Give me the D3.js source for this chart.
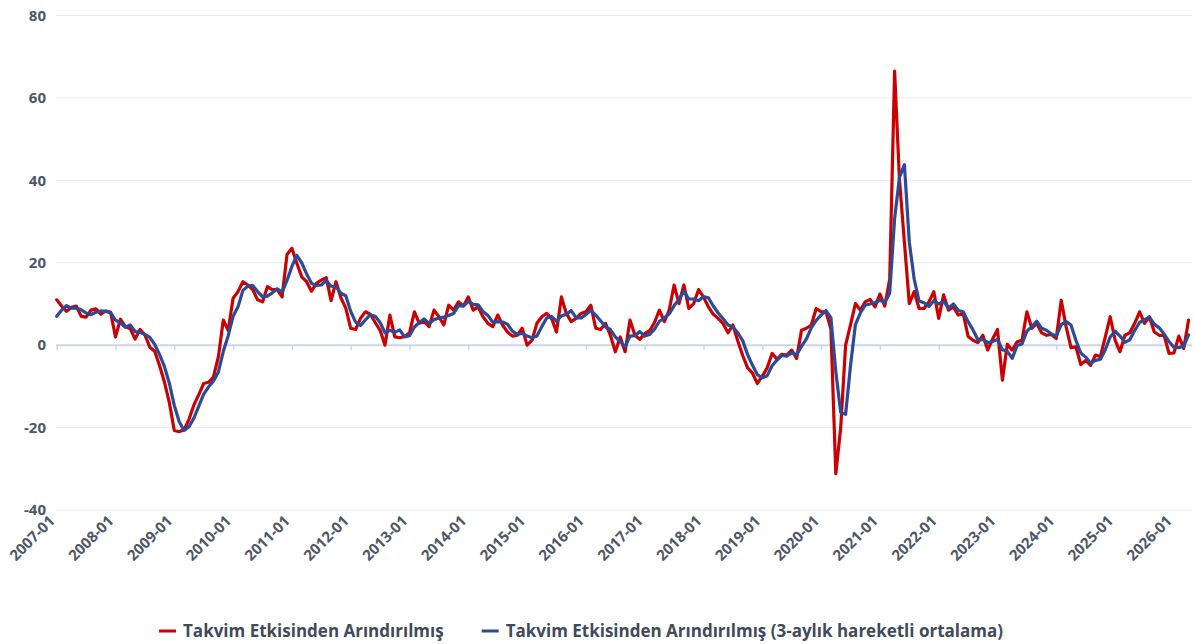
<!DOCTYPE html>
<html>
<head>
<meta charset="utf-8">
<script src="https://cdn.jsdelivr.net/npm/d3@7"></script>
<style>
  html, body { margin: 0; padding: 0; background: #ffffff; }
  svg { display: block; font-family: "Open Sans", "Noto Sans", sans-serif; }
</style>
</head>
<body>
<svg id="chart" width="1194" height="644"></svg>
<script>
// Monthly series, 2007-01 .. 2026-04 (one row per year)
const adjusted = [
  11.0, 9.5, 8.2, 9.2, 9.5, 7.0, 6.8, 8.5, 8.8, 7.5, 8.3, 8.0,
  2.0, 6.3, 4.5, 4.0, 1.5, 3.8, 2.5, -0.5, -1.5, -5.0, -9.0, -14.0,
  -20.7, -21.0, -20.5, -18.0, -14.5, -12.0, -9.3, -9.0, -7.7, -2.8, 6.1, 3.6,
  11.4, 13.0, 15.4, 14.6, 13.5, 11.0, 10.5, 14.2, 13.5, 13.5, 11.7, 22.0,
  23.5, 19.9, 16.6, 15.4, 13.1, 15.0, 15.8, 16.4, 10.8, 15.4, 11.5, 9.0,
  4.1, 3.8, 6.5, 8.1, 7.5, 5.5, 3.6, 0.0, 7.3, 2.0, 1.8, 2.1,
  3.0, 8.1, 5.3, 5.7, 4.5, 8.5, 6.9, 4.9, 9.7, 8.5, 10.5, 9.5,
  11.7, 8.5, 9.3, 6.9, 5.3, 4.5, 7.3, 4.9, 3.2, 2.2, 2.4, 4.1,
  0.0, 1.2, 5.3, 6.9, 7.7, 6.5, 3.2, 11.7, 7.7, 5.7, 6.5, 7.7,
  8.1, 9.7, 4.1, 3.8, 5.3, 2.4, -1.6, 2.0, -1.6, 6.1, 2.4, 1.4,
  2.8, 3.5, 5.5, 8.5, 5.7, 8.5, 14.6, 10.1, 14.6, 8.9, 10.1, 13.5,
  11.7, 9.3, 7.5, 6.5, 5.2, 3.0, 4.9, 1.0, -2.5, -5.5, -6.8, -9.3,
  -7.5, -5.5, -2.0, -3.4, -2.2, -2.4, -1.2, -3.2, 3.6, 4.1, 4.9, 8.9,
  8.1, 8.1, 4.0, -31.2, -20.0, 0.0, 4.9, 10.1, 8.5, 10.5, 11.1, 9.3,
  12.4, 9.5, 16.0, 66.5, 40.0, 25.0, 10.1, 13.0, 8.9, 8.9, 10.5, 13.0,
  6.5, 12.2, 8.5, 9.3, 7.3, 7.7, 2.1, 1.2, 0.6, 2.4, -1.2, 1.5,
  3.8, -8.5, 0.2, -1.2, 0.8, 1.2, 8.1, 4.1, 5.3, 3.0, 2.4, 2.6,
  1.6, 10.9, 4.5, -0.6, -0.4, -4.7, -3.7, -4.9, -2.4, -2.8, 2.0, 6.9,
  1.2, -1.6, 2.4, 3.0, 5.3, 8.1, 5.3, 6.9, 3.2, 2.4, 2.4, -2.0,
  -1.9, 2.2, -0.8, 6.1
];

const movingAvg = [
  7.0, 8.5, 9.6, 9.0, 9.0, 8.6, 7.8, 7.4, 8.0, 8.3, 8.2, 7.9,
  6.1, 5.4, 4.3, 4.9, 3.3, 3.1, 2.6, 1.9, 0.2, -2.3, -5.2, -9.3,
  -14.6, -18.6, -20.7, -19.8, -17.7, -14.8, -11.9, -10.1, -8.7, -6.5, -1.5, 2.3,
  7.0, 9.3, 13.3, 14.3, 14.5, 13.0, 11.7, 11.9, 12.7, 13.7, 12.9, 15.7,
  19.1, 21.8, 20.0, 17.3, 15.0, 14.5, 14.6, 15.7, 14.3, 14.2, 12.6, 12.0,
  8.2, 5.6, 4.8, 6.1, 7.4, 7.0, 5.5, 3.0, 3.6, 3.1, 3.7, 2.0,
  2.3, 4.4, 5.5, 6.4, 5.2, 6.2, 6.6, 6.8, 7.2, 7.7, 9.6, 9.5,
  10.6, 9.9, 9.8, 8.2, 7.2, 5.6, 5.7, 5.6, 5.1, 3.4, 2.6, 2.9,
  2.2, 1.8, 2.2, 4.5, 6.6, 7.0, 5.8, 7.1, 7.5, 8.4, 6.6, 6.6,
  7.4, 8.5, 7.3, 5.9, 4.4, 3.8, 2.0, 0.9, -0.4, 2.2, 2.3, 3.3,
  2.2, 2.6, 3.9, 5.8, 6.6, 7.6, 9.6, 11.1, 13.1, 11.2, 11.2, 10.8,
  11.8, 11.5, 9.5, 7.8, 6.4, 4.9, 4.4, 3.0, 1.1, -2.3, -4.9, -7.2,
  -7.9, -7.4, -5.0, -3.6, -2.5, -2.7, -1.9, -2.3, -0.3, 1.5, 4.2, 6.0,
  7.3, 8.4, 6.7, -6.4, -16.3, -16.8, -5.0, 5.0, 7.8, 9.7, 10.0, 10.3,
  10.9, 10.4, 12.6, 30.7, 40.8, 43.8, 25.0, 16.0, 10.7, 10.3, 9.4, 10.8,
  10.0, 10.6, 9.1, 10.0, 8.4, 8.1, 5.7, 3.7, 1.3, 1.4, 0.6, 0.9,
  1.4, -1.1, -1.5, -3.2, -0.1, 0.3, 3.4, 4.5, 5.8, 4.1, 3.6, 2.7,
  2.2, 5.0, 5.7, 4.9, 1.2, -1.9, -2.9, -4.4, -3.7, -3.4, -1.1, 2.0,
  3.4, 2.2, 0.7, 1.3, 3.6, 5.5, 6.2, 6.8, 5.1, 4.2, 2.7, 0.9,
  -0.5, -0.6, -0.2, 2.5
];

const tickLabels = [
  "2007-01", "2008-01", "2009-01", "2010-01", "2011-01", "2012-01", "2013-01",
  "2014-01", "2015-01", "2016-01", "2017-01", "2018-01", "2019-01", "2020-01",
  "2021-01", "2022-01", "2023-01", "2024-01", "2025-01", "2026-01"
];
const yTicks = [-40, -20, 0, 20, 40, 60, 80];

const seriesNames = [
  "Takvim Etkisinden Arındırılmış",
  "Takvim Etkisinden Arındırılmış (3-aylık hareketli ortalama)"
];
const seriesColors = ["#cc0000", "#2b4a98"];

const svg = d3.select("#chart");
const textColor = "#4d5768";

const x = d3.scaleLinear().domain([0, adjusted.length - 1]).range([56.7, 1188.6]);
const y = d3.scaleLinear().domain([-40, 80]).range([510, 15.5]);

// gridlines
svg.append("g")
  .selectAll("line")
  .data(yTicks.filter(d => d !== 0))
  .join("line")
  .attr("x1", 56).attr("x2", 1192)
  .attr("y1", d => y(d)).attr("y2", d => y(d))
  .attr("stroke", "#e6e9f0")
  .attr("stroke-width", 1);

// y labels
svg.append("g")
  .selectAll("text")
  .data(yTicks)
  .join("text")
  .attr("x", 46)
  .attr("y", d => y(d))
  .attr("dy", "0.35em")
  .attr("text-anchor", "end")
  .attr("fill", textColor)
  .style("font-size", "15px")
  .style("font-weight", 700)
  .text(d => d);

// x axis sitting on zero
const tickIdx = tickLabels.map((d, i) => i * 12);
const xAxis = d3.axisBottom(x)
  .tickValues(tickIdx)
  .tickSize(5)
  .tickFormat("");
const gx = svg.append("g")
  .attr("transform", `translate(0,${y(0)})`)
  .call(xAxis);
gx.select(".domain").attr("d", `M56,0H1192`).attr("stroke", "#ccd6eb").attr("stroke-width", 2);
gx.selectAll(".tick line").attr("stroke", "#ccd6eb").attr("stroke-width", 1.5);

// x labels under the plot
svg.append("g")
  .selectAll("text")
  .data(tickLabels)
  .join("text")
  .attr("transform", (d, i) => `translate(${x(tickIdx[i]) - 1},522) rotate(-45)`)
  .attr("text-anchor", "end")
  .attr("fill", textColor)
  .style("font-size", "15px")
  .style("font-weight", 700)
  .text(d => d);

// lines
const line = d3.line()
  .x((d, i) => x(i))
  .y(d => y(d));

[adjusted, movingAvg].forEach((data, k) => {
  svg.append("path")
    .datum(data)
    .attr("d", line)
    .attr("fill", "none")
    .attr("stroke", seriesColors[k])
    .attr("stroke-width", 3.2)
    .attr("stroke-linejoin", "round")
    .attr("stroke-linecap", "round");
});

// legend
const legend = svg.append("g").attr("transform", "translate(0,631)");
let cursor = 0;
seriesNames.forEach((name, k) => {
  const g = legend.append("g");
  g.append("line")
    .attr("x1", 0).attr("x2", 17)
    .attr("y1", 0).attr("y2", 0)
    .attr("stroke", seriesColors[k])
    .attr("stroke-width", 3);
  const t = g.append("text")
    .attr("x", 24)
    .attr("dy", "0.35em")
    .attr("fill", "#3f4a5a")
    .style("font-size", "17px")
    .style("font-weight", 700)
    .text(name);
  const w = 24 + t.node().getComputedTextLength();
  g.attr("transform", `translate(${cursor},0)`);
  cursor += w + 38;
});
const total = cursor - 38;
legend.attr("transform", `translate(${581 - total / 2},631)`);
</script>
</body>
</html>
